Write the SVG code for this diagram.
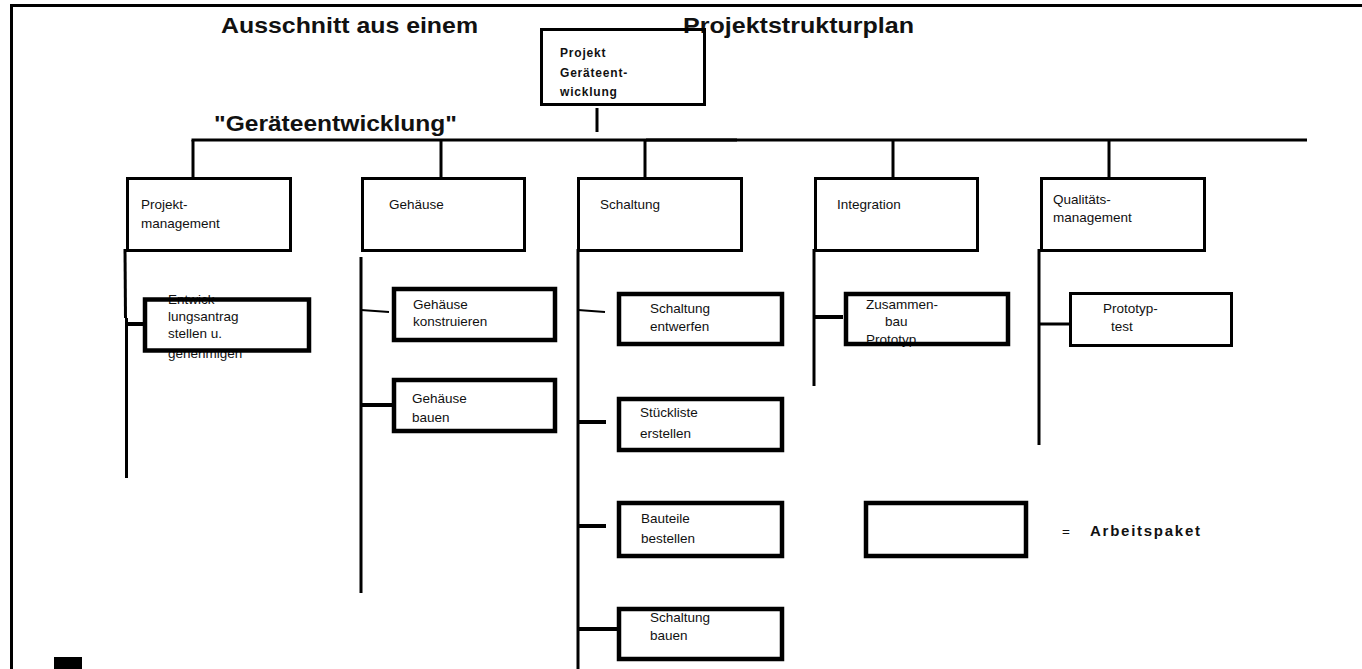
<svg xmlns="http://www.w3.org/2000/svg" width="1362" height="669" viewBox="0 0 1362 669">
<style>
.t{font-family:"Liberation Sans",Arial,sans-serif;font-size:13.5px;fill:#111}
.tb{font-family:"Liberation Sans",Arial,sans-serif;font-weight:bold;fill:#111}
.l1{fill:none;stroke:#000;stroke-width:3}
.wp{fill:none;stroke:#000;stroke-width:4.5}
.ln{stroke:#000;stroke-width:3;fill:none}
.lt{stroke:#000;stroke-width:4;fill:none}
.lh{stroke:#000;stroke-width:2;fill:none}
</style>
<rect width="1362" height="669" fill="#fff"/>
<g id="frame">
<line x1="10" y1="5.5" x2="1362" y2="5.5" class="ln"/>
<line x1="11.5" y1="4" x2="11.5" y2="669" class="ln"/>
<rect x="54" y="657" width="28" height="12" fill="#000"/>
</g>
<g id="titles">
<text x="221" y="33" class="tb" font-size="22" textLength="257" lengthAdjust="spacingAndGlyphs">Ausschnitt aus einem</text>
<text x="683" y="33" class="tb" font-size="22" textLength="231" lengthAdjust="spacingAndGlyphs">Projektstrukturplan</text>
<text x="214" y="131" class="tb" font-size="22" textLength="243" lengthAdjust="spacingAndGlyphs">"Geräteentwicklung"</text>
</g>
<g id="connectors">
<line x1="597" y1="108" x2="597" y2="132" class="ln"/>
<line x1="191.5" y1="140" x2="737" y2="140" class="ln"/>
<line x1="646" y1="140" x2="1307" y2="140" class="ln"/>
<line x1="193" y1="140" x2="193" y2="178" class="ln"/>
<line x1="441" y1="140" x2="441" y2="178" class="ln"/>
<line x1="645" y1="140" x2="645" y2="178" class="ln"/>
<line x1="893" y1="140" x2="893" y2="178" class="ln"/>
<line x1="1109" y1="140" x2="1109" y2="178" class="ln"/>
<line x1="125" y1="249" x2="125.5" y2="318" class="ln"/>
<line x1="126.5" y1="318" x2="126.5" y2="478" class="ln"/>
<line x1="126" y1="324" x2="145" y2="324" class="lt"/>
<line x1="361" y1="257" x2="361" y2="593" class="ln"/>
<line x1="361" y1="310" x2="389" y2="312" class="lh"/>
<line x1="361" y1="405" x2="393" y2="405" class="lt"/>
<line x1="578" y1="249" x2="578" y2="669" class="ln"/>
<line x1="578" y1="310" x2="605" y2="312" class="lh"/>
<line x1="578" y1="422" x2="606" y2="422" class="lt"/>
<line x1="578" y1="526" x2="606" y2="526" class="lt"/>
<line x1="578" y1="629" x2="618" y2="629" class="lt"/>
<line x1="814" y1="249" x2="814" y2="386" class="ln"/>
<line x1="814" y1="317" x2="843" y2="317" class="lt"/>
<line x1="1039" y1="249" x2="1039" y2="445" class="ln"/>
<line x1="1039" y1="324" x2="1070" y2="324" class="ln"/>
</g>
<g id="n-projekt">
<text class="tb" font-size="12" letter-spacing="0.8"><tspan x="560" y="57">Projekt</tspan><tspan x="560" y="77">Geräteent-</tspan><tspan x="560" y="96">wicklung</tspan></text>
<rect x="541.5" y="29.5" width="163" height="75" class="l1"/>
</g>
<g id="n-pm">
<text class="t"><tspan x="141" y="209">Projekt-</tspan><tspan x="141" y="228">management</tspan></text>
<rect x="127.5" y="178.5" width="163" height="72" class="l1"/>
</g>
<g id="n-gehaeuse">
<text class="t" x="389" y="209">Gehäuse</text>
<rect x="362.5" y="178.5" width="162" height="72" class="l1"/>
</g>
<g id="n-schaltung">
<text class="t" x="600" y="209">Schaltung</text>
<rect x="578.5" y="178.5" width="163" height="72" class="l1"/>
</g>
<g id="n-integration">
<text class="t" x="837" y="209">Integration</text>
<rect x="815.5" y="178.5" width="162" height="72" class="l1"/>
</g>
<g id="n-qm">
<text class="t"><tspan x="1053" y="204">Qualitäts-</tspan><tspan x="1053" y="222">management</tspan></text>
<rect x="1041.5" y="178.5" width="163" height="72" class="l1"/>
</g>
<g id="n-entwicklungsantrag">
<text class="t"><tspan x="168" y="304">Entwick-</tspan><tspan x="168" y="321">lungsantrag</tspan><tspan x="168" y="338">stellen u.</tspan><tspan x="168" y="358">genehmigen</tspan></text>
<rect x="145" y="299.5" width="164" height="51" class="wp"/>
</g>
<g id="n-geh-konstruieren">
<text class="t"><tspan x="413" y="309">Gehäuse</tspan><tspan x="413" y="326">konstruieren</tspan></text>
<rect x="394" y="289" width="161" height="51" class="wp"/>
</g>
<g id="n-geh-bauen">
<text class="t"><tspan x="412" y="403">Gehäuse</tspan><tspan x="412" y="422">bauen</tspan></text>
<rect x="394" y="380" width="161" height="51" class="wp"/>
</g>
<g id="n-sch-entwerfen">
<text class="t"><tspan x="650" y="313">Schaltung</tspan><tspan x="650" y="331">entwerfen</tspan></text>
<rect x="619" y="294" width="163" height="50" class="wp"/>
</g>
<g id="n-stueckliste">
<text class="t"><tspan x="640" y="417">Stückliste</tspan><tspan x="640" y="438">erstellen</tspan></text>
<rect x="619" y="399" width="163" height="51" class="wp"/>
</g>
<g id="n-bauteile">
<text class="t"><tspan x="641" y="523">Bauteile</tspan><tspan x="641" y="543">bestellen</tspan></text>
<rect x="619" y="503" width="163" height="53" class="wp"/>
</g>
<g id="n-sch-bauen">
<text class="t"><tspan x="650" y="622">Schaltung</tspan><tspan x="650" y="640">bauen</tspan></text>
<rect x="619" y="609" width="163" height="50" class="wp"/>
</g>
<g id="n-zusammenbau">
<text class="t"><tspan x="866" y="309">Zusammen-</tspan><tspan x="885" y="326">bau</tspan><tspan x="866" y="344">Prototyp</tspan></text>
<rect x="846" y="294" width="162" height="50" class="wp"/>
</g>
<g id="n-prototyptest">
<text class="t"><tspan x="1103" y="313">Prototyp-</tspan><tspan x="1111" y="331">test</tspan></text>
<rect x="1070.5" y="293.5" width="161" height="52" class="l1"/>
</g>
<g id="legend">
<rect x="866" y="503" width="160" height="53" class="wp"/>
<text class="t" x="1062" y="536">=</text>
<text class="tb" font-size="15" x="1090" y="536" textLength="110" lengthAdjust="spacing">Arbeitspaket</text>
</g>
</svg>
